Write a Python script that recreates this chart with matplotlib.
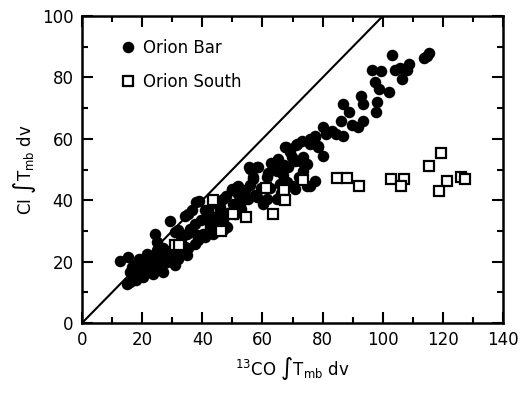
import matplotlib
matplotlib.use("Agg")
import matplotlib.pyplot as plt
from matplotlib.ticker import MultipleLocator
import numpy as np

bar_x = [12.5,15.4,16.5,14.9,16.0,17.1,18.7,19.8,21.5,20.4,22.6,23.7,25.4,24.8,24.8,24.3,27.0,28.2,29.3,30.9,
         32.0,30.9,27.0,29.8,18.0,21.0,19.0,22.0,26.0,28.5,17.5,23.5,26.5,16.0,20.0,
         34.3,34.8,34.3,34.8,36.5,37.6,38.1,37.6,37.8,39.0,40.9,42.6,40.3,44.2,44.8,35.4,31.8,35.4,33.0,36.0,
         39.5,41.5,32.5,38.5,42.0,43.7,43.7,40.9,45.9,
         44.8,45.9,47.0,47.0,47.0,48.1,49.8,49.8,50.3,51.4,52.0,52.5,53.6,54.2,55.3,55.5,55.9,57.0,57.0,57.5,
         58.1,58.3,58.6,60.3,43.7,42.6,48.5,51.0,46.5,53.0,56.0,59.5,48.0,52.0,
         61.4,61.4,63.0,63.1,64.7,64.7,64.7,65.3,65.8,66.9,67.5,67.8,68.6,69.2,69.7,70.3,70.8,70.8,71.2,71.4,
         72.5,73.1,73.6,73.6,74.7,74.7,75.8,75.8,75.8,77.5,77.5,77.5,78.6,78.6,80.2,80.2,81.1,62.5,66.0,68.0,
         72.0,62.0,67.0,
         84.5,86.9,86.0,86.9,88.9,89.7,91.9,93.5,92.7,93.5,98.0,97.7,97.4,98.8,102.1,96.3,99.4,104.1,105.8,108.7,
         108.0,106.3,103.0,113.8,114.6,115.5,83.0]
bar_y = [20.2,21.6,18.3,12.8,13.5,15.6,17.2,19.9,22.6,15.0,18.3,16.1,18.8,23.7,26.4,29.1,16.7,19.9,33.4,29.6,
         21.0,18.8,24.3,23.7,14.0,17.0,21.0,20.5,21.5,22.0,19.0,21.0,19.0,16.5,18.0,
         35.0,29.1,24.8,22.1,36.7,32.4,28.6,25.9,39.4,39.8,36.7,32.4,29.1,40.0,31.3,35.6,30.2,24.3,27.0,30.5,
         33.5,34.5,24.0,27.0,36.7,34.5,29.1,28.0,37.8,
         38.9,36.7,40.5,33.4,30.2,31.3,43.2,43.7,38.9,44.3,44.5,40.0,40.0,43.2,40.5,50.8,50.2,47.0,47.5,41.6,
         41.0,50.8,50.8,38.9,33.4,31.3,36.0,35.5,35.0,37.0,45.0,44.0,41.5,42.0,
         47.5,40.5,52.0,51.8,52.9,40.5,49.7,53.5,45.4,48.1,57.2,57.2,50.8,55.6,54.0,44.8,52.9,43.7,58.1,58.3,
         52.9,59.4,49.7,54.0,51.8,44.8,60.0,58.3,44.8,46.4,60.5,61.0,57.8,57.5,54.5,64.0,61.6,44.0,42.5,46.0,
         47.5,49.0,51.5,
         61.6,60.8,65.7,71.3,68.6,64.6,64.0,65.9,74.0,71.3,71.9,68.9,78.6,76.2,75.4,82.5,82.1,82.4,83.2,84.3,
         82.4,79.6,87.2,86.3,87.0,87.9,62.5]

south_x = [31.0, 32.3, 43.5, 46.2, 50.1, 54.4, 61.2, 63.4, 67.2, 67.5, 73.6, 84.7, 88.0, 92.1,
           102.8, 107.0, 106.0, 115.5, 119.3, 121.3, 118.7, 125.9, 127.4]
south_y = [25.3, 25.3, 40.0, 30.0, 35.6, 34.5, 44.0, 35.6, 43.2, 40.0, 46.6, 47.3, 47.3, 44.8,
           47.0, 47.0, 44.6, 51.3, 55.4, 46.2, 42.9, 47.5, 46.8]

line_x = [0, 140]
line_y = [0, 140]

plt.rcParams['font.family'] = ['DejaVu Sans']
plt.rcParams['mathtext.fontset'] = 'dejavusans'

fig = plt.figure(figsize=(5.29, 3.93), dpi=100)
ax = fig.add_axes([0.155, 0.178, 0.796, 0.781])

ax.plot(line_x, line_y, color='black', lw=1.5, zorder=1)
ax.plot(bar_x, bar_y, 'o', color='black', markersize=8.3, mew=0, zorder=2, label='Orion Bar')
ax.plot(south_x, south_y, 's', mfc='white', mec='black', markersize=6.8, mew=1.6, zorder=3,
        label='Orion South')

ax.set_xlim(0, 140)
ax.set_ylim(0, 100)
ax.xaxis.set_major_locator(MultipleLocator(20))
ax.xaxis.set_minor_locator(MultipleLocator(10))
ax.yaxis.set_major_locator(MultipleLocator(20))
ax.yaxis.set_minor_locator(MultipleLocator(10))
ax.tick_params(which='both', direction='in', top=True, right=True, width=1.5, labelsize=12)
ax.tick_params(which='major', length=8, pad=6)
ax.tick_params(which='minor', length=4)
for s in ax.spines.values():
    s.set_linewidth(1.8)

ax.set_xlabel(r'$^{13}$CO $\int$T$_{\rm mb}$ dv', fontsize=12, labelpad=4)
ax.set_ylabel(r'CI $\int$T$_{\rm mb}$ dv', fontsize=12, labelpad=0)
ax.yaxis.set_label_coords(-0.105, 0.5)

leg = ax.legend(loc='upper left', frameon=False, fontsize=12, handletextpad=0.4,
                borderaxespad=0.6, labelspacing=0.95, handlelength=1.0, markerscale=1.0,
                bbox_to_anchor=(0.05, 0.98))

fig.savefig('out.png', dpi=100)
